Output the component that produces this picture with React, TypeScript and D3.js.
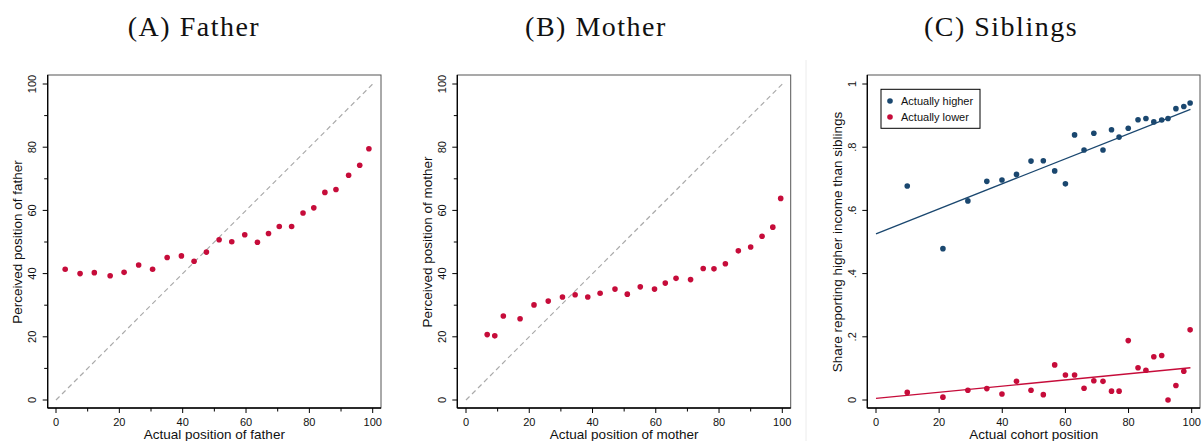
import React, { useEffect, useRef } from 'react';
import * as d3 from 'd3';

// (A) Father: actual vs perceived position
const fatherX = [2.9, 7.6, 12.1, 17.1, 21.5, 26.1, 30.5, 35.1, 39.6, 43.6, 47.5, 51.5, 55.5, 59.6, 63.6, 67.1, 70.5, 74.4, 78.0, 81.4, 84.9, 88.4, 92.4, 95.9, 98.8];
const fatherY = [41.4, 40.0, 40.3, 39.3, 40.4, 42.7, 41.4, 45.1, 45.6, 43.9, 46.8, 50.7, 50.1, 52.3, 49.9, 52.7, 54.9, 54.9, 59.2, 60.8, 65.7, 66.6, 71.1, 74.3, 79.5];

// (B) Mother
const motherX = [6.7, 9.1, 11.8, 17.1, 21.5, 26.0, 30.5, 34.5, 38.5, 42.4, 47.1, 51.0, 55.1, 59.6, 63.0, 66.4, 71.0, 75.0, 78.4, 82.0, 86.1, 90.0, 93.6, 97.0, 99.5];
const motherY = [20.7, 20.3, 26.6, 25.7, 30.1, 31.3, 32.6, 33.3, 32.6, 33.8, 35.1, 33.5, 35.8, 35.1, 37.0, 38.5, 38.1, 41.6, 41.5, 43.1, 47.2, 48.4, 51.8, 54.7, 63.8];

// (C) Siblings
const cohortX = [9.9, 21.2, 29.1, 35.1, 39.9, 44.5, 49.1, 53.0, 56.6, 60.0, 62.9, 65.9, 69.0, 71.9, 74.6, 77.0, 79.9, 83.0, 85.5, 88.0, 90.5, 92.5, 95.0, 97.5, 99.5];
const higherY = [0.677, 0.479, 0.630, 0.692, 0.696, 0.714, 0.756, 0.757, 0.725, 0.684, 0.839, 0.791, 0.844, 0.791, 0.855, 0.832, 0.860, 0.887, 0.891, 0.880, 0.886, 0.891, 0.922, 0.929, 0.940];
const lowerY = [0.024, 0.009, 0.031, 0.036, 0.019, 0.059, 0.031, 0.017, 0.111, 0.079, 0.079, 0.037, 0.061, 0.059, 0.028, 0.028, 0.188, 0.102, 0.094, 0.137, 0.141, 0.0, 0.046, 0.091, 0.222];
const higherFit: [number, number][] = [[0, 0.526], [99.6, 0.92]];
const lowerFit: [number, number][] = [[0, 0.005], [99.6, 0.102]];

const posTicks = [0, 20, 40, 60, 80, 100];
const posMinor = [10, 30, 50, 70, 90];
const shareTicks = [0, 0.2, 0.4, 0.6, 0.8, 1];
const shareLabels = ['0', '.2', '.4', '.6', '.8', '1'];

const RED = '#c60c3a';
const BLUE = '#1a476f';
const SANS = '"Liberation Sans", Arial, sans-serif';

const App: React.FC = () => {
  const svgRef = useRef<SVGSVGElement>(null);

  useEffect(() => {
    const svg = d3.select(svgRef.current);
    svg.selectAll('*').remove();

    const top = 75;
    const bottom = 408;

    const drawPanel = (o: {
      title: string; titleX: number; frameLeft: number; frameRight: number;
      xRange: [number, number]; yDomain: [number, number];
      yTicks: number[]; yLabels: string[]; minor: boolean;
      xTitle: string; yTitle: string;
    }) => {
      const x = d3.scaleLinear().domain([0, 100]).range(o.xRange);
      const y = d3.scaleLinear().domain(o.yDomain).range([400, 84]);
      const g = svg.append('g');

      g.append('text')
        .attr('x', o.titleX).attr('y', 36)
        .attr('text-anchor', 'middle')
        .style('font-family', '"Liberation Serif", "Times New Roman", serif')
        .style('font-size', '28px')
        .style('letter-spacing', '1.5px')
        .attr('fill', '#111')
        .text(o.title);

      // frame
      g.append('rect')
        .attr('x', o.frameLeft).attr('y', top)
        .attr('width', o.frameRight - o.frameLeft).attr('height', bottom - top)
        .attr('fill', 'none').attr('stroke', '#555').attr('stroke-width', 1);

      // axis lines
      g.append('line').attr('x1', o.frameLeft).attr('x2', o.frameLeft).attr('y1', top).attr('y2', bottom)
        .attr('stroke', '#000').attr('stroke-width', 1.3);
      g.append('line').attr('x1', o.frameLeft).attr('x2', o.frameRight).attr('y1', bottom).attr('y2', bottom)
        .attr('stroke', '#000').attr('stroke-width', 1.3);

      // x ticks
      posTicks.forEach(t => {
        g.append('line').attr('x1', x(t)).attr('x2', x(t)).attr('y1', bottom).attr('y2', bottom + 5)
          .attr('stroke', '#000');
        g.append('text').attr('x', x(t)).attr('y', 426).attr('text-anchor', 'middle')
          .style('font-family', SANS).style('font-size', '11px').attr('fill', '#111').text(t);
      });
      // y ticks
      o.yTicks.forEach((t, i) => {
        g.append('line').attr('x1', o.frameLeft - 5).attr('x2', o.frameLeft).attr('y1', y(t)).attr('y2', y(t))
          .attr('stroke', '#000');
        const lx = o.frameLeft - 11.5;
        g.append('text').attr('x', lx).attr('y', y(t))
          .attr('transform', `rotate(-90, ${lx}, ${y(t)})`)
          .attr('text-anchor', 'middle')
          .style('font-family', SANS).style('font-size', '11px').attr('fill', '#111').text(o.yLabels[i]);
      });
      if (o.minor) {
        posMinor.forEach(t => {
          g.append('line').attr('x1', x(t)).attr('x2', x(t)).attr('y1', bottom).attr('y2', bottom + 3.5)
            .attr('stroke', '#000');
          g.append('line').attr('x1', o.frameLeft - 3.5).attr('x2', o.frameLeft).attr('y1', y(t)).attr('y2', y(t))
            .attr('stroke', '#000');
        });
      }

      // axis titles
      g.append('text')
        .attr('x', (o.xRange[0] + o.xRange[1]) / 2).attr('y', 439)
        .attr('text-anchor', 'middle')
        .style('font-family', SANS).style('font-size', '13.5px').attr('fill', '#111')
        .text(o.xTitle);
      const tx = o.frameLeft - 25.3;
      g.append('text')
        .attr('x', tx).attr('y', 242)
        .attr('transform', `rotate(-90, ${tx}, 242)`)
        .attr('text-anchor', 'middle')
        .style('font-family', SANS).style('font-size', '13.5px').attr('fill', '#111')
        .text(o.yTitle);

      return { g, x, y };
    };

    const dots = (g: any, xs: number[], ys: number[], x: any, y: any, color: string) => {
      g.selectAll(null)
        .data(xs.map((d, i) => [d, ys[i]]))
        .enter().append('circle')
        .attr('cx', (d: number[]) => x(d[0]))
        .attr('cy', (d: number[]) => y(d[1]))
        .attr('r', 2.8)
        .attr('fill', color);
    };

    const diag = (g: any, x: any, y: any) => {
      g.append('path')
        .attr('d', d3.line<number>().x(d => x(d)).y(d => y(d))([0, 100]))
        .attr('stroke', '#aaa').attr('stroke-width', 1.2)
        .attr('stroke-dasharray', '5,3.5').attr('fill', 'none');
    };

    // faint separator
    svg.append('line').attr('x1', 806).attr('x2', 806).attr('y1', 60).attr('y2', 441)
      .attr('stroke', '#ececec').attr('stroke-width', 1);

    // Panel A
    const a = drawPanel({
      title: '(A) Father', titleX: 194, frameLeft: 47.7, frameRight: 381,
      xRange: [56, 372.7], yDomain: [0, 100],
      yTicks: posTicks, yLabels: posTicks.map(String), minor: true,
      xTitle: 'Actual position of father', yTitle: 'Perceived position of father',
    });
    diag(a.g, a.x, a.y);
    dots(a.g, fatherX, fatherY, a.x, a.y, RED);

    // Panel B
    const b = drawPanel({
      title: '(B) Mother', titleX: 596, frameLeft: 457.3, frameRight: 790.7,
      xRange: [466, 782.3], yDomain: [0, 100],
      yTicks: posTicks, yLabels: posTicks.map(String), minor: true,
      xTitle: 'Actual position of mother', yTitle: 'Perceived position of mother',
    });
    diag(b.g, b.x, b.y);
    dots(b.g, motherX, motherY, b.x, b.y, RED);

    // Panel C
    const c = drawPanel({
      title: '(C) Siblings', titleX: 1001, frameLeft: 867.3, frameRight: 1200,
      xRange: [876, 1191.7], yDomain: [0, 1],
      yTicks: shareTicks, yLabels: shareLabels, minor: false,
      xTitle: 'Actual cohort position', yTitle: 'Share reporting higher income than siblings',
    });
    const fitLine = d3.line<[number, number]>().x(d => c.x(d[0])).y(d => c.y(d[1]));
    c.g.append('path').attr('d', fitLine(higherFit)).attr('stroke', BLUE).attr('stroke-width', 1.3).attr('fill', 'none');
    c.g.append('path').attr('d', fitLine(lowerFit)).attr('stroke', RED).attr('stroke-width', 1.3).attr('fill', 'none');
    dots(c.g, cohortX, higherY, c.x, c.y, BLUE);
    dots(c.g, cohortX, lowerY, c.x, c.y, RED);

    // Legend
    const legend = c.g.append('g');
    legend.append('rect').attr('x', 881).attr('y', 89.3).attr('width', 99).attr('height', 39)
      .attr('fill', '#fff').attr('stroke', '#000').attr('stroke-width', 1);
    [['Actually higher', BLUE], ['Actually lower', RED]].forEach(([label, color], i) => {
      const ly = 101 + i * 16;
      legend.append('circle').attr('cx', 890).attr('cy', ly).attr('r', 2.8).attr('fill', color);
      legend.append('text').attr('x', 901).attr('y', ly + 4)
        .style('font-family', SANS).style('font-size', '11px').attr('fill', '#111').text(label);
    });
  }, []);

  return (
    <svg ref={svgRef} width={1202} height={441}
      style={{ position: 'absolute', left: 0, top: 0, background: '#fff' }} />
  );
};

export default App;
